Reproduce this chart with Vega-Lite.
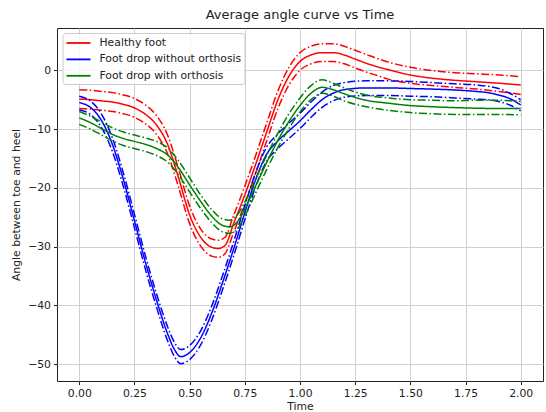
{
  "$schema": "https://vega.github.io/schema/vega-lite/v6.json",
  "width": 486,
  "height": 353,
  "autosize": "none",
  "padding": {"left": 57, "top": 28, "right": 3, "bottom": 31},
  "background": "white",
  "title": {"text": "Average angle curve vs Time", "font": "DejaVu Sans", "fontSize": 13, "fontWeight": "normal", "color": "#222", "offset": 6},
  "data": {"values": [
    {"s":"Healthy foot","t":0.00,"m":-4.9,"u":-3.3,"l":-6.5},
    {"s":"Healthy foot","t":0.05,"m":-5.0,"u":-3.4,"l":-6.6},
    {"s":"Healthy foot","t":0.10,"m":-5.2,"u":-3.6,"l":-6.8},
    {"s":"Healthy foot","t":0.15,"m":-5.4,"u":-3.8,"l":-7.0},
    {"s":"Healthy foot","t":0.20,"m":-5.8,"u":-4.2,"l":-7.4},
    {"s":"Healthy foot","t":0.25,"m":-6.4,"u":-4.8,"l":-8.0},
    {"s":"Healthy foot","t":0.30,"m":-7.5,"u":-5.9,"l":-9.1},
    {"s":"Healthy foot","t":0.35,"m":-9.3,"u":-7.7,"l":-10.9},
    {"s":"Healthy foot","t":0.40,"m":-12.6,"u":-11.0,"l":-14.2},
    {"s":"Healthy foot","t":0.45,"m":-18.3,"u":-16.8,"l":-19.9},
    {"s":"Healthy foot","t":0.50,"m":-24.6,"u":-23.1,"l":-26.1},
    {"s":"Healthy foot","t":0.55,"m":-28.4,"u":-27.0,"l":-29.9},
    {"s":"Healthy foot","t":0.60,"m":-30.1,"u":-28.7,"l":-31.6},
    {"s":"Healthy foot","t":0.63,"m":-30.3,"u":-28.9,"l":-31.8},
    {"s":"Healthy foot","t":0.66,"m":-29.8,"u":-28.4,"l":-31.2},
    {"s":"Healthy foot","t":0.70,"m":-26.0,"u":-24.6,"l":-27.5},
    {"s":"Healthy foot","t":0.75,"m":-21.2,"u":-19.7,"l":-22.7},
    {"s":"Healthy foot","t":0.80,"m":-15.9,"u":-14.4,"l":-17.4},
    {"s":"Healthy foot","t":0.85,"m":-10.4,"u":-8.9,"l":-11.9},
    {"s":"Healthy foot","t":0.90,"m":-5.0,"u":-3.5,"l":-6.5},
    {"s":"Healthy foot","t":0.95,"m":-1.0,"u":0.5,"l":-2.5},
    {"s":"Healthy foot","t":1.00,"m":1.5,"u":3.0,"l":0.0},
    {"s":"Healthy foot","t":1.05,"m":2.6,"u":4.1,"l":1.1},
    {"s":"Healthy foot","t":1.10,"m":3.0,"u":4.5,"l":1.5},
    {"s":"Healthy foot","t":1.15,"m":3.0,"u":4.5,"l":1.5},
    {"s":"Healthy foot","t":1.20,"m":2.6,"u":4.1,"l":1.1},
    {"s":"Healthy foot","t":1.25,"m":1.9,"u":3.4,"l":0.4},
    {"s":"Healthy foot","t":1.30,"m":1.2,"u":2.7,"l":-0.3},
    {"s":"Healthy foot","t":1.35,"m":0.6,"u":2.0,"l":-0.9},
    {"s":"Healthy foot","t":1.40,"m":0.1,"u":1.4,"l":-1.5},
    {"s":"Healthy foot","t":1.50,"m":-0.8,"u":0.5,"l":-2.2},
    {"s":"Healthy foot","t":1.60,"m":-1.35,"u":-0.05,"l":-2.6},
    {"s":"Healthy foot","t":1.70,"m":-1.7,"u":-0.4,"l":-2.9},
    {"s":"Healthy foot","t":1.80,"m":-1.95,"u":-0.6,"l":-3.2},
    {"s":"Healthy foot","t":1.90,"m":-2.2,"u":-0.8,"l":-3.6},
    {"s":"Healthy foot","t":2.00,"m":-2.5,"u":-1.1,"l":-4.1},

    {"s":"Foot drop without orthosis","t":0.00,"m":-5.5,"u":-4.4,"l":-6.7},
    {"s":"Foot drop without orthosis","t":0.05,"m":-6.3,"u":-5.2,"l":-7.5},
    {"s":"Foot drop without orthosis","t":0.10,"m":-8.5,"u":-7.4,"l":-9.7},
    {"s":"Foot drop without orthosis","t":0.15,"m":-12.6,"u":-11.5,"l":-13.8},
    {"s":"Foot drop without orthosis","t":0.20,"m":-18.6,"u":-17.5,"l":-19.8},
    {"s":"Foot drop without orthosis","t":0.25,"m":-25.6,"u":-24.5,"l":-26.8},
    {"s":"Foot drop without orthosis","t":0.30,"m":-32.7,"u":-31.6,"l":-33.9},
    {"s":"Foot drop without orthosis","t":0.35,"m":-39.1,"u":-38.0,"l":-40.3},
    {"s":"Foot drop without orthosis","t":0.40,"m":-44.8,"u":-43.6,"l":-46.0},
    {"s":"Foot drop without orthosis","t":0.43,"m":-47.4,"u":-46.2,"l":-48.6},
    {"s":"Foot drop without orthosis","t":0.46,"m":-48.7,"u":-47.5,"l":-49.9},
    {"s":"Foot drop without orthosis","t":0.50,"m":-48.0,"u":-46.8,"l":-49.2},
    {"s":"Foot drop without orthosis","t":0.55,"m":-45.5,"u":-44.3,"l":-46.7},
    {"s":"Foot drop without orthosis","t":0.60,"m":-41.3,"u":-40.1,"l":-42.5},
    {"s":"Foot drop without orthosis","t":0.65,"m":-36.0,"u":-34.8,"l":-37.2},
    {"s":"Foot drop without orthosis","t":0.70,"m":-30.3,"u":-29.1,"l":-31.5},
    {"s":"Foot drop without orthosis","t":0.75,"m":-24.2,"u":-23.0,"l":-25.4},
    {"s":"Foot drop without orthosis","t":0.80,"m":-18.5,"u":-17.3,"l":-19.7},
    {"s":"Foot drop without orthosis","t":0.85,"m":-14.2,"u":-13.0,"l":-15.4},
    {"s":"Foot drop without orthosis","t":0.90,"m":-12.0,"u":-10.8,"l":-13.3},
    {"s":"Foot drop without orthosis","t":0.95,"m":-10.3,"u":-9.0,"l":-11.6},
    {"s":"Foot drop without orthosis","t":1.00,"m":-8.6,"u":-7.3,"l":-9.9},
    {"s":"Foot drop without orthosis","t":1.05,"m":-6.7,"u":-5.4,"l":-8.0},
    {"s":"Foot drop without orthosis","t":1.10,"m":-5.0,"u":-3.7,"l":-6.3},
    {"s":"Foot drop without orthosis","t":1.15,"m":-3.9,"u":-2.6,"l":-5.2},
    {"s":"Foot drop without orthosis","t":1.20,"m":-3.3,"u":-2.1,"l":-4.6},
    {"s":"Foot drop without orthosis","t":1.30,"m":-3.0,"u":-1.8,"l":-4.3},
    {"s":"Foot drop without orthosis","t":1.40,"m":-3.0,"u":-1.8,"l":-4.3},
    {"s":"Foot drop without orthosis","t":1.50,"m":-3.1,"u":-1.9,"l":-4.4},
    {"s":"Foot drop without orthosis","t":1.60,"m":-3.2,"u":-2.1,"l":-4.5},
    {"s":"Foot drop without orthosis","t":1.70,"m":-3.35,"u":-2.3,"l":-4.7},
    {"s":"Foot drop without orthosis","t":1.80,"m":-3.6,"u":-2.5,"l":-4.9},
    {"s":"Foot drop without orthosis","t":1.85,"m":-3.8,"u":-2.7,"l":-5.0},
    {"s":"Foot drop without orthosis","t":1.90,"m":-4.2,"u":-3.1,"l":-5.3},
    {"s":"Foot drop without orthosis","t":1.95,"m":-4.8,"u":-3.9,"l":-5.9},
    {"s":"Foot drop without orthosis","t":2.00,"m":-5.9,"u":-5.0,"l":-6.9},

    {"s":"Foot drop with orthosis","t":0.00,"m":-8.1,"u":-7.0,"l":-9.2},
    {"s":"Foot drop with orthosis","t":0.05,"m":-8.9,"u":-7.8,"l":-10.0},
    {"s":"Foot drop with orthosis","t":0.10,"m":-9.9,"u":-8.8,"l":-11.0},
    {"s":"Foot drop with orthosis","t":0.15,"m":-10.9,"u":-9.8,"l":-12.0},
    {"s":"Foot drop with orthosis","t":0.20,"m":-11.6,"u":-10.5,"l":-12.8},
    {"s":"Foot drop with orthosis","t":0.25,"m":-12.1,"u":-11.0,"l":-13.3},
    {"s":"Foot drop with orthosis","t":0.30,"m":-12.6,"u":-11.5,"l":-13.8},
    {"s":"Foot drop with orthosis","t":0.35,"m":-13.3,"u":-12.1,"l":-14.5},
    {"s":"Foot drop with orthosis","t":0.40,"m":-14.4,"u":-13.2,"l":-15.6},
    {"s":"Foot drop with orthosis","t":0.45,"m":-16.6,"u":-15.4,"l":-17.8},
    {"s":"Foot drop with orthosis","t":0.50,"m":-19.5,"u":-18.3,"l":-20.7},
    {"s":"Foot drop with orthosis","t":0.55,"m":-22.3,"u":-21.2,"l":-23.5},
    {"s":"Foot drop with orthosis","t":0.60,"m":-24.8,"u":-23.7,"l":-25.9},
    {"s":"Foot drop with orthosis","t":0.65,"m":-26.4,"u":-25.3,"l":-27.5},
    {"s":"Foot drop with orthosis","t":0.68,"m":-26.6,"u":-25.5,"l":-27.7},
    {"s":"Foot drop with orthosis","t":0.72,"m":-25.6,"u":-24.4,"l":-26.8},
    {"s":"Foot drop with orthosis","t":0.75,"m":-23.6,"u":-22.4,"l":-24.8},
    {"s":"Foot drop with orthosis","t":0.80,"m":-19.6,"u":-18.4,"l":-20.8},
    {"s":"Foot drop with orthosis","t":0.85,"m":-15.6,"u":-14.4,"l":-16.8},
    {"s":"Foot drop with orthosis","t":0.90,"m":-11.9,"u":-10.7,"l":-13.1},
    {"s":"Foot drop with orthosis","t":0.95,"m":-8.7,"u":-7.4,"l":-9.9},
    {"s":"Foot drop with orthosis","t":1.00,"m":-6.0,"u":-4.7,"l":-7.1},
    {"s":"Foot drop with orthosis","t":1.05,"m":-3.9,"u":-2.6,"l":-5.0},
    {"s":"Foot drop with orthosis","t":1.10,"m":-2.9,"u":-1.6,"l":-3.9},
    {"s":"Foot drop with orthosis","t":1.15,"m":-3.3,"u":-2.2,"l":-4.4},
    {"s":"Foot drop with orthosis","t":1.20,"m":-4.0,"u":-3.0,"l":-5.2},
    {"s":"Foot drop with orthosis","t":1.30,"m":-5.1,"u":-4.2,"l":-6.2},
    {"s":"Foot drop with orthosis","t":1.40,"m":-5.6,"u":-4.7,"l":-6.8},
    {"s":"Foot drop with orthosis","t":1.50,"m":-6.0,"u":-5.0,"l":-7.2},
    {"s":"Foot drop with orthosis","t":1.60,"m":-6.2,"u":-5.1,"l":-7.4},
    {"s":"Foot drop with orthosis","t":1.70,"m":-6.35,"u":-5.2,"l":-7.5},
    {"s":"Foot drop with orthosis","t":1.80,"m":-6.45,"u":-5.1,"l":-7.5},
    {"s":"Foot drop with orthosis","t":1.90,"m":-6.5,"u":-5.1,"l":-7.5},
    {"s":"Foot drop with orthosis","t":2.00,"m":-6.5,"u":-5.3,"l":-7.6}
  ]},
  "transform": [{"fold": ["m", "u", "l"], "as": ["kind", "v"]}],
  "mark": {"type": "line", "strokeWidth": 1.5, "interpolate": "monotone"},
  "encoding": {
    "x": {"field": "t", "type": "quantitative",
      "scale": {"domain": [-0.101, 2.101], "nice": false, "zero": false},
      "axis": {"values": [0, 0.25, 0.5, 0.75, 1, 1.25, 1.5, 1.75, 2], "format": ".2f", "title": "Time", "labelPadding": 3, "titlePadding": 2}},
    "y": {"field": "v", "type": "quantitative",
      "scale": {"domain": [-52.84, 7.19], "nice": false, "zero": false},
      "axis": {"values": [-50, -40, -30, -20, -10, 0], "format": "d", "title": "Angle between toe and heel", "labelPadding": 3, "titlePadding": 6}},
    "color": {"field": "s", "type": "nominal",
      "scale": {"domain": ["Healthy foot", "Foot drop without orthosis", "Foot drop with orthosis"], "range": ["#ff0000", "#0000ff", "#008000"]},
      "legend": {"title": null, "orient": "none", "legendX": 5.5, "legendY": 5, "symbolType": "M-1,0H3", "symbolSize": 144, "symbolStrokeWidth": 1.8, "labelOffset": 20, "rowPadding": 4.4, "padding": 3, "fillColor": "rgba(255,255,255,0.8)", "strokeColor": "#cccccc", "cornerRadius": 3, "labelFont": "DejaVu Sans", "labelFontSize": 10.8, "labelColor": "#222"}},
    "strokeDash": {"field": "kind", "type": "nominal",
      "scale": {"domain": ["m", "u", "l"], "range": [[1, 0], [8, 2.5, 1.5, 2.5], [8, 2.5, 1.5, 2.5]]},
      "legend": null}
  },
  "config": {
    "view": {"stroke": "#222", "strokeWidth": 1},
    "axis": {"domain": false, "grid": true, "gridColor": "#cfcfcf", "gridWidth": 1, "tickColor": "#222", "tickSize": 3.5, "labelColor": "#222", "labelFont": "DejaVu Sans", "labelFontSize": 10.8, "titleFont": "DejaVu Sans", "titleFontSize": 10.8, "titleFontWeight": "normal", "titleColor": "#222"}
  }
}
